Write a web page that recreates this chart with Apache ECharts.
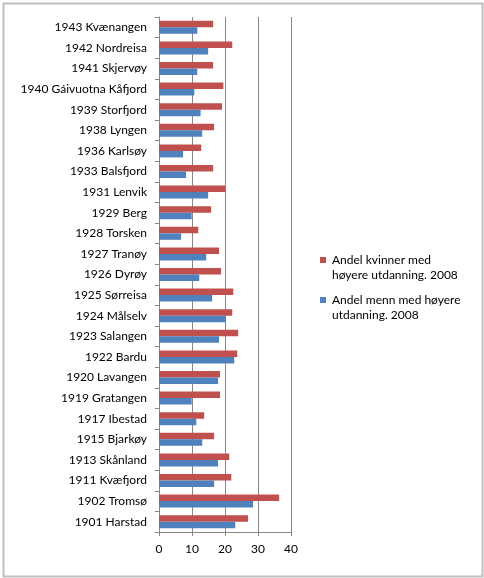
<!DOCTYPE html>
<html>
<head>
<meta charset="utf-8">
<script src="https://cdn.jsdelivr.net/npm/echarts@6/dist/echarts.min.js"></script>
<style>
  html, body { margin: 0; padding: 0; background: #fff; }
  #chart { width: 484px; height: 578px; }
</style>
</head>
<body>
<div id="chart"></div>
<script>
// kommuner, nederst til øverst
const kommuner = [
  '1901 Harstad', '1902 Tromsø', '1911 Kvæfjord', '1913 Skånland', '1915 Bjarkøy',
  '1917 Ibestad', '1919 Gratangen', '1920 Lavangen', '1922 Bardu', '1923 Salangen',
  '1924 Målselv', '1925 Sørreisa', '1926 Dyrøy', '1927 Tranøy', '1928 Torsken',
  '1929 Berg', '1931 Lenvik', '1933 Balsfjord', '1936 Karlsøy', '1938 Lyngen',
  '1939 Storfjord', '1940 Gáivuotna Kåfjord', '1941 Skjervøy', '1942 Nordreisa', '1943 Kvænangen'
];
const kvinner = [
  27.0, 36.4, 21.9, 21.3, 16.7,
  13.7, 18.5, 18.5, 23.7, 24.0,
  22.2, 22.5, 18.8, 18.2, 11.9,
  15.8, 20.1, 16.4, 12.8, 16.7,
  19.1, 19.5, 16.4, 22.2, 16.4
];
const menn = [
  23.1, 28.5, 16.7, 17.9, 13.1,
  11.3, 9.9, 17.9, 22.8, 18.2,
  20.1, 16.1, 12.2, 14.3, 6.7,
  9.9, 14.9, 8.2, 7.3, 13.1,
  12.6, 10.7, 11.6, 14.9, 11.6
];
const seriesNames = ['Andel kvinner med høyere utdanning. 2008', 'Andel menn med høyere utdanning. 2008'];
const legendLines = [['Andel kvinner med', 'høyere utdanning. 2008'], ['Andel menn med høyere', 'utdanning. 2008']];
const colors = ['#C0504D', '#4F81BD'];
const xTicks = [0, 10, 20, 30, 40];

const font = 'Lato, "Open Sans", sans-serif';
const chart = echarts.init(document.getElementById('chart'));

const legendGraphics = [];
legendLines.forEach((lines, i) => {
  const top = 256 + i * 40;
  legendGraphics.push({
    type: 'rect', left: 320, top: top + 1,
    shape: { width: 6, height: 6 },
    style: { fill: colors[i] }
  });
  legendGraphics.push({
    type: 'text', left: 332, top: top - 3,
    style: { text: lines.join('\n'), font: '12px ' + font, lineHeight: 15, fill: '#000' }
  });
});

chart.setOption({
  animation: false,
  textStyle: { fontFamily: font },
  grid: { left: 159, right: 193, top: 17, bottom: 46, containLabel: false },
  xAxis: {
    type: 'value',
    min: xTicks[0],
    max: xTicks[xTicks.length - 1],
    interval: 10,
    axisLine: { show: true, lineStyle: { color: '#868686', width: 1 } },
    axisTick: { show: true, length: 4, lineStyle: { color: '#868686' } },
    axisLabel: { color: '#000', fontSize: 12, margin: 11 },
    splitLine: { show: true, lineStyle: { color: '#868686', width: 1 } }
  },
  yAxis: {
    type: 'category',
    data: kommuner,
    axisLine: { show: true, lineStyle: { color: '#868686', width: 1 } },
    axisTick: { show: true, length: 4, lineStyle: { color: '#868686' } },
    axisLabel: { color: '#000', fontSize: 12, margin: 12 }
  },
  series: [
    { name: seriesNames[0], type: 'bar', data: kvinner, barWidth: 6.5, barGap: '0%', itemStyle: { color: colors[0] } },
    { name: seriesNames[1], type: 'bar', data: menn, barWidth: 6.5, barGap: '0%', itemStyle: { color: colors[1] } }
  ],
  graphic: [
    {
      type: 'rect', left: 1, top: 1,
      shape: { width: 479, height: 573 },
      style: { fill: 'none', stroke: '#bfbfbf', lineWidth: 2 }
    }
  ].concat(legendGraphics)
});
</script>
</body>
</html>
